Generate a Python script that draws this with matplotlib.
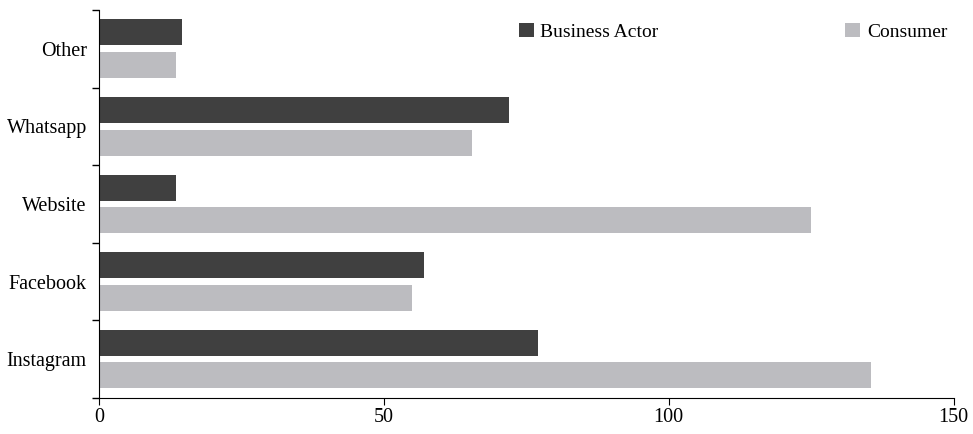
import matplotlib
matplotlib.use("Agg")
import matplotlib.pyplot as plt
import numpy as np

categories = ["Instagram", "Facebook", "Website", "Whatsapp", "Other"]
business_actor = [77, 57, 13.5, 72, 14.5]
consumer = [135.5, 55, 125, 65.5, 13.5]

plt.rcParams["font.family"] = ["Liberation Serif", "DejaVu Serif"]

fig = plt.figure(figsize=(9.73, 4.34), dpi=100)
ax = fig.add_axes([0.102, 0.083, 0.878, 0.894])

y = np.arange(len(categories))
h = 0.335
ax.barh(y + 0.21, business_actor, height=h, color="#404040", label="Business Actor")
ax.barh(y - 0.21, consumer, height=h, color="#bcbcc0", label="Consumer")

ax.set_xlim(0, 150)
ax.set_ylim(-0.5, 4.5)
ax.set_xticks([0, 50, 100, 150])
ax.set_yticks(y)
ax.set_yticklabels(categories)
ax.set_yticks(np.arange(-0.5, 5, 1), minor=True)
ax.tick_params(axis="y", which="major", length=0, pad=9, labelsize=14.5)
ax.tick_params(axis="y", which="minor", length=5, width=1)
ax.tick_params(axis="x", length=5, labelsize=14.5, pad=2)
for s in ["top", "right"]:
    ax.spines[s].set_visible(False)

ax.legend(loc="upper right", bbox_to_anchor=(1.013, 1.012), ncol=2, frameon=False,
          fontsize=14, handlelength=0.75, handleheight=0.75, handletextpad=0.35,
          columnspacing=9.6)

plt.savefig("out.png")
